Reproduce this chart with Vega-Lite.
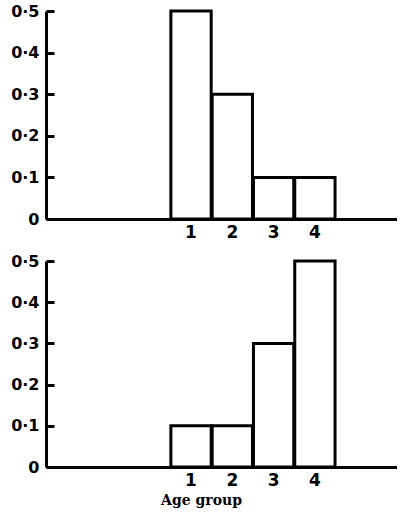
{
  "$schema": "https://vega.github.io/schema/vega-lite/v6.json",
  "padding": {"left": 10, "top": 3, "right": 0, "bottom": 6},
  "background": "white",
  "spacing": 13,
  "config": {
    "view": {"stroke": null},
    "axis": {
      "grid": false,
      "domainColor": "black",
      "domainWidth": 3,
      "labelColor": "black",
      "labelFont": "DejaVu Sans",
      "labelFontWeight": "bold",
      "titleColor": "black"
    }
  },
  "datasets": {
    "top": [
      {"age_group": 1, "lo": 0.5, "hi": 1.5, "proportion": 0.5},
      {"age_group": 2, "lo": 1.5, "hi": 2.5, "proportion": 0.3},
      {"age_group": 3, "lo": 2.5, "hi": 3.5, "proportion": 0.1},
      {"age_group": 4, "lo": 3.5, "hi": 4.5, "proportion": 0.1}
    ],
    "bottom": [
      {"age_group": 1, "lo": 0.5, "hi": 1.5, "proportion": 0.1},
      {"age_group": 2, "lo": 1.5, "hi": 2.5, "proportion": 0.1},
      {"age_group": 3, "lo": 2.5, "hi": 3.5, "proportion": 0.3},
      {"age_group": 4, "lo": 3.5, "hi": 4.5, "proportion": 0.5}
    ]
  },
  "vconcat": [
    {
      "width": 351,
      "height": 208,
      "data": {"name": "top"},
      "mark": {"type": "bar", "fill": "white", "stroke": "black", "strokeWidth": 3},
      "encoding": {
        "x": {
          "field": "lo", "type": "quantitative", "bin": "binned",
          "scale": {"domain": [-2.5, 6.0], "nice": false, "zero": false},
          "axis": {"values": [1, 2, 3, 4], "ticks": false, "labelFontSize": 17, "labelPadding": 5, "title": null, "labelFlush": false}
        },
        "x2": {"field": "hi"},
        "y": {
          "field": "proportion", "type": "quantitative",
          "scale": {"domain": [0, 0.5], "nice": false},
          "axis": {"values": [0, 0.1, 0.2, 0.3, 0.4, 0.5], "ticks": false, "labelPadding": 7, "labelFontSize": 16, "title": null,
                   "grid": true, "gridColor": "black", "gridWidth": 3, "gridOpacity": 1, "gridDash": [8, 1000],
                   "labelExpr": "datum.value == 0 ? '0' : replace(datum.label, '.', '·')"}
        }
      }
    },
    {
      "width": 351,
      "height": 206,
      "data": {"name": "bottom"},
      "mark": {"type": "bar", "fill": "white", "stroke": "black", "strokeWidth": 3},
      "encoding": {
        "x": {
          "field": "lo", "type": "quantitative", "bin": "binned",
          "scale": {"domain": [-2.5, 6.0], "nice": false, "zero": false},
          "axis": {"values": [1, 2, 3, 4], "ticks": false, "labelFontSize": 17, "labelPadding": 5, "labelFlush": false,
                   "title": "Age group", "titleFont": "DejaVu Serif", "titleFontWeight": "bold", "titleFontSize": 14,
                   "titleX": 155, "titleAlign": "center", "titlePadding": 5}
        },
        "x2": {"field": "hi"},
        "y": {
          "field": "proportion", "type": "quantitative",
          "scale": {"domain": [0, 0.5], "nice": false},
          "axis": {"values": [0, 0.1, 0.2, 0.3, 0.4, 0.5], "ticks": false, "labelPadding": 7, "labelFontSize": 16, "title": null,
                   "grid": true, "gridColor": "black", "gridWidth": 3, "gridOpacity": 1, "gridDash": [8, 1000],
                   "labelExpr": "datum.value == 0 ? '0' : replace(datum.label, '.', '·')"}
        }
      }
    }
  ]
}
